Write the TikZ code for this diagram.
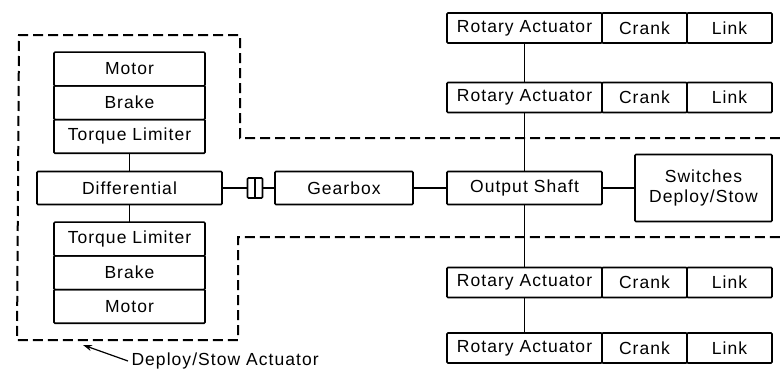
\documentclass[tikz,border=0pt]{standalone}
\usepackage{fontspec}
\setmainfont{Liberation Sans}[LetterSpace=6]
\usetikzlibrary{arrows.meta,positioning}

\begin{document}
\begin{tikzpicture}[x=1pt,y=-1pt,>={Stealth[length=9pt,width=6pt]},node distance=0pt,
  every node/.style={font=\fontsize{17.5}{20}\selectfont},
  blk/.style={draw,line width=1.6pt,rounded corners=1pt,outer sep=0pt,inner sep=0pt},
  stk/.style={blk,minimum width=151pt,minimum height=33.7pt},
  rab/.style={blk,minimum width=155pt,minimum height=30pt},
  cbox/.style={blk,minimum width=85pt,minimum height=30pt},
  shaft/.style={line width=1.6pt},
  bound/.style={line width=2pt,dash pattern=on 10pt off 5pt}]
\useasboundingbox (0,0) rectangle (780,372);
% left actuator stacks
\node[stk] at (129.5,69) (motA) {Motor};
\node[stk,below=of motA] (brkA) {Brake};
\node[stk,below=of brkA] (tlA) {Torque Limiter};
\node[blk,minimum width=185pt,minimum height=33pt] at (129.5,188) (diff) {Differential};
\node[stk] at (129.5,239) (tlB) {Torque Limiter};
\node[stk,below=of tlB] (brkB) {Brake};
\node[stk,below=of brkB] (motB) {Motor};
\draw[shaft] (tlA) -- (diff);
\draw[shaft] (diff) -- (tlB);
% drive line
\node[blk,minimum width=15pt,minimum height=20pt] at (255,188) (cpl) {};
\draw[line width=1.6pt] (cpl.north) -- (cpl.south);
\node[blk,minimum width=138pt,minimum height=33pt] at (344,188) (gear) {Gearbox};
\node[blk,minimum width=155pt,minimum height=33pt] at (524.5,188) (out) {Output Shaft};
\node[blk,minimum width=137pt,minimum height=67pt,align=center] at (703.5,188) (sw) {Switches\\Deploy/Stow};
\draw[shaft] (diff) -- (cpl);
\draw[shaft] (cpl) -- (gear);
\draw[shaft] (gear) -- (out);
\draw[shaft] (out) -- (sw);
% rotary actuators
\foreach \i/\y in {1/28,2/97.5,3/282.5,4/348}{
  \node[rab] at (524.5,\y) (ra\i) {Rotary Actuator};
  \node[cbox,right=of ra\i] (cr\i) {Crank};
  \node[cbox,right=of cr\i] (lk\i) {Link};
}
\draw[shaft] (ra1) -- (ra2);
\draw[shaft] (ra2) -- (out);
\draw[shaft] (out) -- (ra3);
\draw[shaft] (ra3) -- (ra4);
% actuator boundary
\draw[bound] (780,138) -- (240,138) -- (240,35) -- (19,35) -- (17,340) -- (238,340) -- (238,237) -- (780,237);
\node[anchor=west] at (128,361) (lbl) {Deploy/Stow Actuator};
\coordinate (tip) at (83,345);
\draw[->,line width=1.2pt] (lbl.west) -- (tip);
\end{tikzpicture}
\end{document}
